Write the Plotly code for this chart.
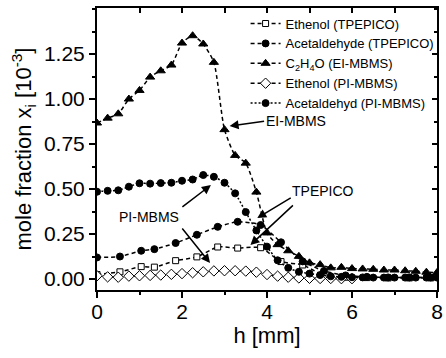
import plotly.graph_objects as go

# ---- data ----
ei_x = [0, 0.25, 0.5, 0.75, 1.0, 1.25, 1.5, 1.75, 2.0, 2.25, 2.5, 2.75, 3.0, 3.25, 3.5, 3.75,
        4.0, 4.25, 4.5, 4.75, 5.0, 5.25, 5.5, 5.75, 6.0, 6.25, 6.5, 6.75, 7.0, 7.25, 7.5, 7.75, 8.0]
ei_c2h4o = [0.867, 0.894, 0.918, 1.0, 1.048, 1.122, 1.157, 1.189, 1.311, 1.352, 1.306, 1.204, 0.83,
            0.687, 0.644, 0.483, 0.256, 0.191, 0.157, 0.126, 0.09, 0.08, 0.062, 0.065, 0.058, 0.056,
            0.054, 0.05, 0.05, 0.046, 0.043, 0.038, 0.036]

tp_x = [0, 0.54, 1.04, 1.35, 1.85, 2.35, 2.84, 3.31, 3.85, 4.33, 4.84, 5.34, 5.85, 6.35, 6.85, 7.35, 7.85]
tp_ethenol = [0.025, 0.04, 0.069, 0.066, 0.102, 0.123, 0.178, 0.172, 0.174, 0.097, 0.078, 0.02,
              0.01, 0.008, 0.006, 0.006, 0.006]
tp_acetald = [0.12, 0.125, 0.157, 0.166, 0.2, 0.246, 0.29, 0.318, 0.3, 0.204, 0.098, 0.045,
              0.02, 0.012, 0.009, 0.009, 0.009]

pi_x = [0, 0.25, 0.5, 0.75, 1.0, 1.25, 1.5, 1.75, 2.0, 2.25, 2.5, 2.75, 3.0, 3.25, 3.5, 3.75,
        4.0, 4.25, 4.5, 4.75, 5.0, 5.25, 5.5, 5.75, 6.0]
pi_ethenol = [0.018, 0.012, 0.01, 0.016, 0.018, 0.02, 0.022, 0.026, 0.03, 0.035, 0.04, 0.045,
              0.046, 0.046, 0.044, 0.038, 0.025, 0.016, 0.01, 0.006, 0.004, 0.003, 0.003, 0.002, 0.002]
pi_acetald_x = pi_x + [6.25, 6.5, 6.75, 7.0, 7.25, 7.5, 7.75, 8.0]
pi_acetald = [0.485, 0.49, 0.493, 0.513, 0.532, 0.53, 0.533, 0.535, 0.546, 0.553, 0.578, 0.568,
              0.535, 0.476, 0.372, 0.27, 0.18, 0.104, 0.062, 0.04, 0.03, 0.022, 0.015, 0.012,
              0.01, 0.009, 0.008, 0.008, 0.008, 0.008, 0.008, 0.008, 0.008]

names = ["Ethenol (TPEPICO)", "Acetaldehyde (TPEPICO)", "C<sub>2</sub>H<sub>4</sub>O (EI-MBMS)",
         "Ethenol (PI-MBMS)", "Acetaldehyd (PI-MBMS)"]
x_ticks = [0, 2, 4, 6, 8]
y_ticks = [0, 0.25, 0.5, 0.75, 1.0, 1.25]
y_ticktext = ["0.00", "0.25", "0.50", "0.75", "1.00", "1.25"]

FONT = "Liberation Sans, Arial, sans-serif"
fig = go.Figure()

def add(x, y, name, symbol, size, dash, fill=True):
    fig.add_trace(go.Scatter(
        x=x, y=y, name=name, mode="lines+markers",
        line=dict(color="black", width=1.5, dash=dash, shape="spline", smoothing=0.6),
        marker=dict(symbol=symbol, size=size, color="black" if fill else "white",
                    line=dict(color="black", width=1)),
    ))

add(tp_x, tp_ethenol, names[0], "square", 6, "4px,3px", fill=False)
add(tp_x, tp_acetald, names[1], "circle", 7, "4px,3px")
add(ei_x, ei_c2h4o, names[2], "triangle-up", 8, "4px,3px")
add(pi_x, pi_ethenol, names[3], "diamond", 8, "4px,3px", fill=False)
add(pi_acetald_x, pi_acetald, names[4], "circle", 7, "2px,2px")

# dummy trace for mirrored axes
fig.add_trace(go.Scatter(x=[None], y=[None], xaxis="x2", yaxis="y2", showlegend=False, hoverinfo="skip"))

XR = [0, 8]
YR = [-0.061, 1.506]

line_common = dict(showline=True, linecolor="black", linewidth=2, showgrid=False, zeroline=False,
                   tickcolor="black", tickwidth=1.5)
tickfont = dict(family=FONT, size=21, color="black")

fig.update_layout(
    width=446, height=358,
    margin=dict(l=97, r=3, t=8, b=68),
    paper_bgcolor="white", plot_bgcolor="white",
    font=dict(family=FONT, color="black"),
    xaxis=dict(range=XR, tickvals=x_ticks, ticks="outside", ticklen=6, tickfont=tickfont,
               ticklabeloverflow="allow", ticklabelstandoff=-4,
               minor=dict(dtick=1, ticks="outside", ticklen=3, tickcolor="black", tickwidth=1.5),
               title=dict(text="h [mm]", font=dict(family=FONT, size=22), standoff=4),
               **line_common),
    yaxis=dict(range=YR, tickvals=y_ticks, ticktext=y_ticktext, tickfont=tickfont,
               ticks="outside", ticklen=6,
               minor=dict(dtick=0.125, tick0=0, ticks="outside", ticklen=3, tickcolor="black", tickwidth=1.5),
               title=dict(text="mole fraction x<sub>i</sub> [10<sup>-3</sup>]", font=dict(family=FONT, size=22), standoff=6),
               **line_common),
    xaxis2=dict(range=XR, overlaying="x", side="top", tickvals=x_ticks, ticks="inside", ticklen=5,
                minor=dict(dtick=1, ticks="inside", ticklen=5, tickcolor="black", tickwidth=1.5),
                showticklabels=False, **line_common),
    yaxis2=dict(range=YR, overlaying="y", side="right", tickvals=y_ticks, ticks="inside", ticklen=5,
                minor=dict(dtick=0.125, tick0=0, ticks="inside", ticklen=3, tickcolor="black", tickwidth=1.5),
                showticklabels=False, **line_common),
    legend=dict(x=0.437, y=0.998, xanchor="left", yanchor="top", bgcolor="rgba(0,0,0,0)",
                font=dict(family=FONT, size=13, color="black"), tracegroupgap=0,
                itemwidth=30),
    showlegend=True,
)

arrow = dict(showarrow=True, arrowhead=2, arrowsize=1.2, arrowwidth=1.5, arrowcolor="black",
             xref="x", yref="y", text="")
fig.add_annotation(x=3.12, y=0.85, ax=36, ay=-5, **arrow)
fig.add_annotation(x=3.77, y=0.339, ax=35, ay=-21, **arrow)
fig.add_annotation(x=3.61, y=0.189, ax=44, ay=-41, **arrow)
fig.add_annotation(x=2.68, y=0.522, ax=-30, ay=23, **arrow)
fig.add_annotation(x=2.66, y=0.089, ax=-29, ay=-36, **arrow)

lab = dict(showarrow=False, xref="x", yref="y", font=dict(family=FONT, size=14, color="black"))
fig.add_annotation(x=4.69, y=0.878, text="EI-MBMS", **lab)
fig.add_annotation(x=5.31, y=0.489, text="TPEPICO", **lab)
fig.add_annotation(x=1.23, y=0.344, text="PI-MBMS", **lab)

fig.write_html("out.html")
